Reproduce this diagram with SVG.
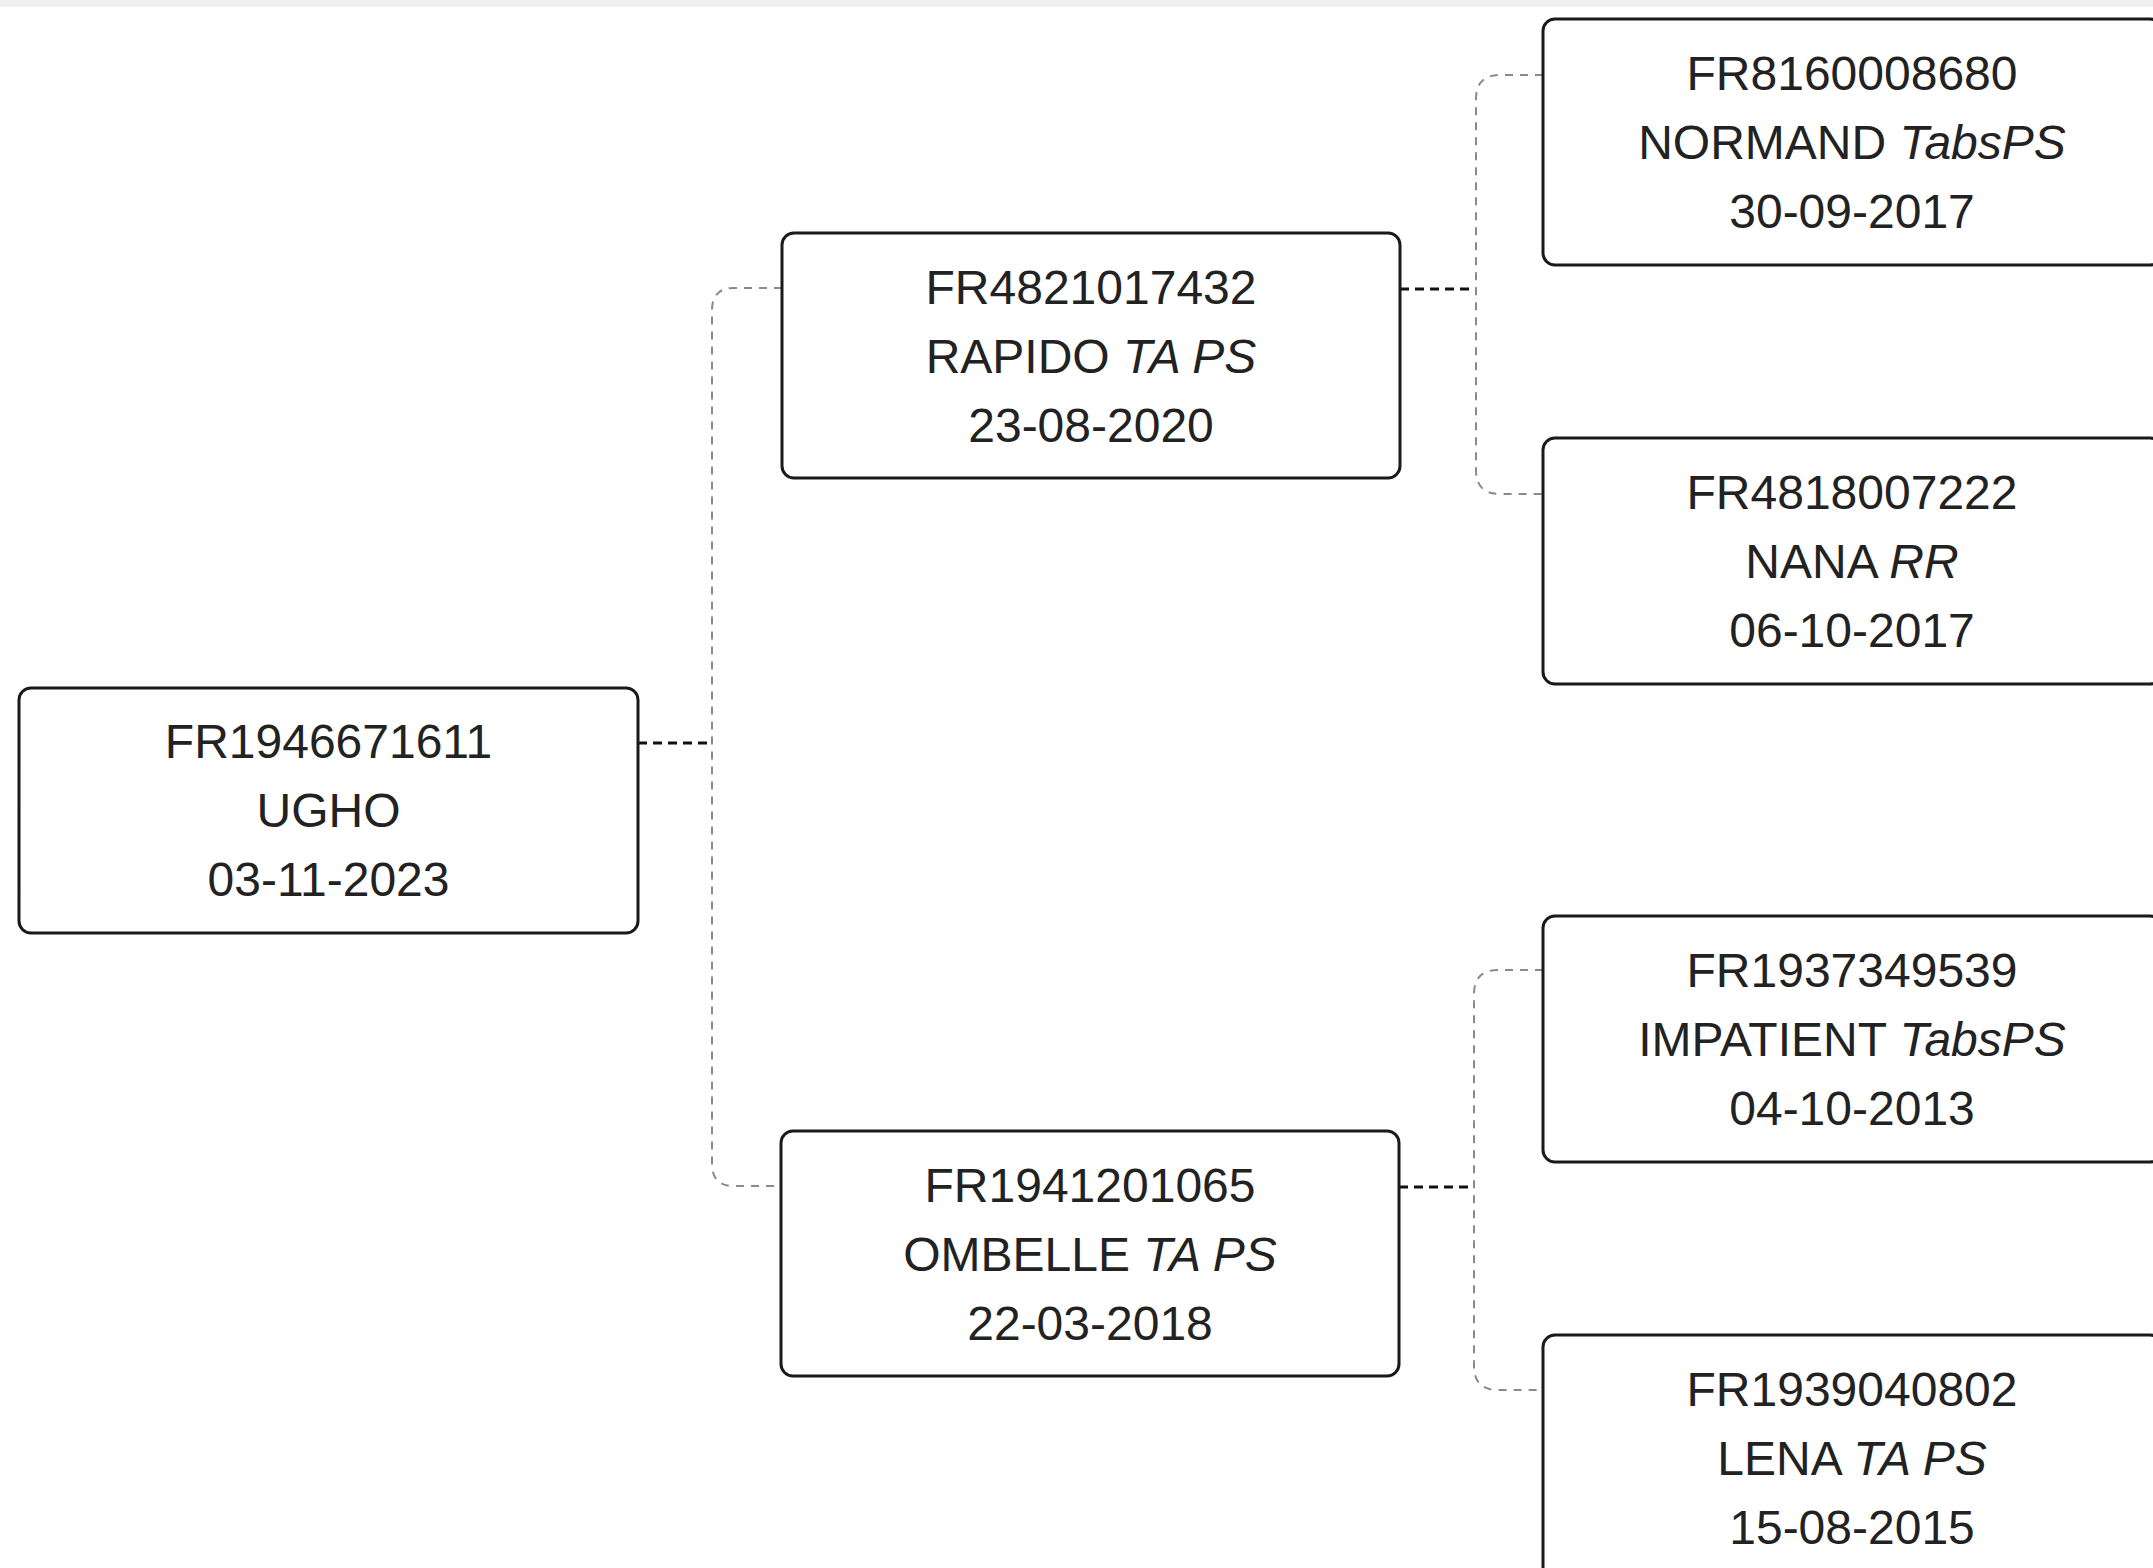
<svg xmlns="http://www.w3.org/2000/svg" width="2153" height="1568" viewBox="0 0 2153 1568">
  <style>
    .box { fill: #ffffff; stroke: #1a1a1a; stroke-width: 3; }
    .t { font-family: "Liberation Sans", Arial, sans-serif; font-size: 48px; fill: #222222; text-anchor: middle; }
    .i { font-style: italic; }
    .stub { fill: none; stroke: #111111; stroke-width: 3; stroke-dasharray: 9 6; }
    .branch { fill: none; stroke: #8a8a8a; stroke-width: 2; stroke-dasharray: 8 7; }
  </style>
  <rect x="0" y="0" width="2153" height="1568" fill="#ffffff"/>
  <rect x="0" y="0" width="2153" height="7" fill="#eef0ee"/>

  <g id="connectors">
    <path class="stub" d="M638,743 H712"/>
    <path class="branch" d="M782,288 H734 Q712,288 712,310 V1164 Q712,1186 734,1186 H781"/>
    <path class="stub" d="M1400,289 H1476"/>
    <path class="branch" d="M1543,75 H1500 Q1476,75 1476,99 V470 Q1476,494 1500,494 H1543"/>
    <path class="stub" d="M1399,1187 H1474"/>
    <path class="branch" d="M1543,970 H1498 Q1474,970 1474,994 V1366 Q1474,1390 1498,1390 H1543"/>
  </g>

  <g id="node-root">
    <rect class="box" x="19" y="688" width="619" height="245" rx="12"/>
    <text class="t" x="328.5" y="758">FR1946671611</text>
    <text class="t" x="328.5" y="827">UGHO</text>
    <text class="t" x="328.5" y="896">03-11-2023</text>
  </g>

  <g id="node-rapido">
    <rect class="box" x="782" y="233" width="618" height="245" rx="12"/>
    <text class="t" x="1091" y="304">FR4821017432</text>
    <text class="t" x="1091" y="373">RAPIDO <tspan class="i">TA PS</tspan></text>
    <text class="t" x="1091" y="442">23-08-2020</text>
  </g>

  <g id="node-ombelle">
    <rect class="box" x="781" y="1131" width="618" height="245" rx="12"/>
    <text class="t" x="1090" y="1202">FR1941201065</text>
    <text class="t" x="1090" y="1271">OMBELLE <tspan class="i">TA PS</tspan></text>
    <text class="t" x="1090" y="1340">22-03-2018</text>
  </g>

  <g id="node-normand">
    <rect class="box" x="1543" y="19" width="619" height="246" rx="12"/>
    <text class="t" x="1852" y="90">FR8160008680</text>
    <text class="t" x="1852" y="159">NORMAND <tspan class="i">TabsPS</tspan></text>
    <text class="t" x="1852" y="228">30-09-2017</text>
  </g>

  <g id="node-nana">
    <rect class="box" x="1543" y="438" width="619" height="246" rx="12"/>
    <text class="t" x="1852" y="509">FR4818007222</text>
    <text class="t" x="1852" y="578">NANA <tspan class="i">RR</tspan></text>
    <text class="t" x="1852" y="647">06-10-2017</text>
  </g>

  <g id="node-impatient">
    <rect class="box" x="1543" y="916" width="619" height="246" rx="12"/>
    <text class="t" x="1852" y="987">FR1937349539</text>
    <text class="t" x="1852" y="1056">IMPATIENT <tspan class="i">TabsPS</tspan></text>
    <text class="t" x="1852" y="1125">04-10-2013</text>
  </g>

  <g id="node-lena">
    <rect class="box" x="1543" y="1335" width="619" height="246" rx="12"/>
    <text class="t" x="1852" y="1406">FR1939040802</text>
    <text class="t" x="1852" y="1475">LENA <tspan class="i">TA PS</tspan></text>
    <text class="t" x="1852" y="1544">15-08-2015</text>
  </g>
</svg>
